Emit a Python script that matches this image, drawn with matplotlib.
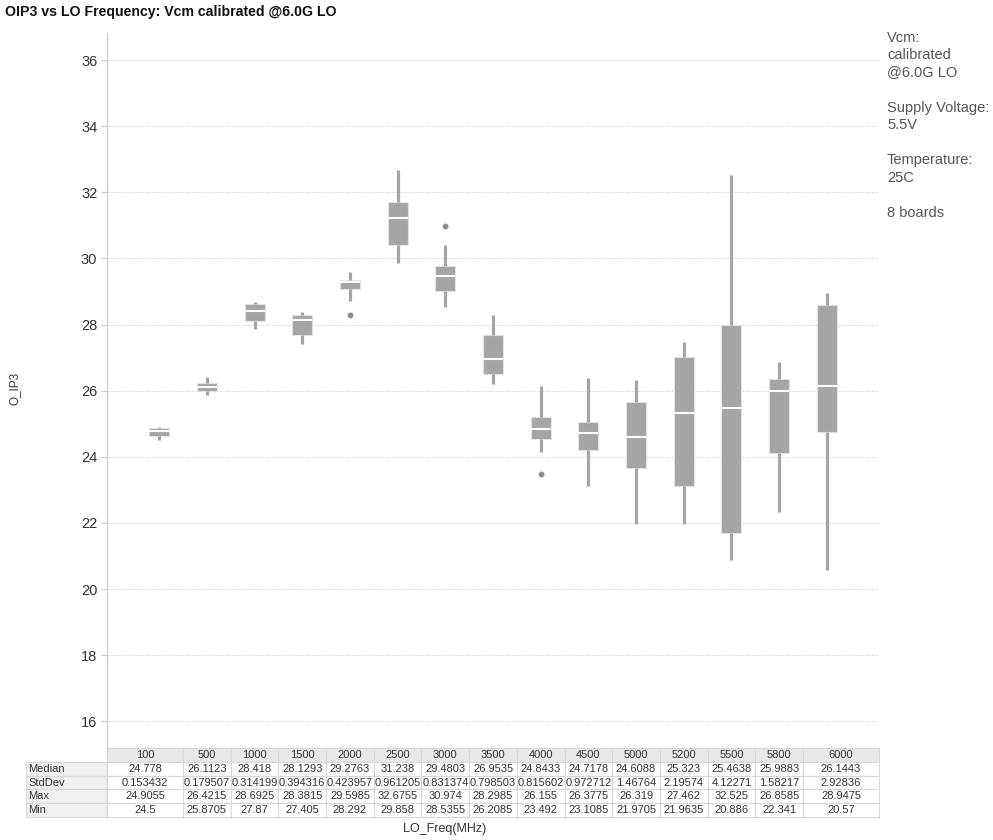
import matplotlib
matplotlib.use('Agg')
import matplotlib.pyplot as plt
import matplotlib.transforms as mtransforms
from matplotlib.patches import Rectangle

plt.rcParams['font.family'] = ['Liberation Sans', 'DejaVu Sans']

# ---------------- data ----------------
freqs = ['100', '500', '1000', '1500', '2000', '2500', '3000', '3500',
         '4000', '4500', '5000', '5200', '5500', '5800', '6000']
median = [24.778, 26.1123, 28.418, 28.1293, 29.2763, 31.238, 29.4803, 26.9535,
          24.8433, 24.7178, 24.6088, 25.323, 25.4638, 25.9883, 26.1443]
stddev = [0.153432, 0.179507, 0.314199, 0.394316, 0.423957, 0.961205, 0.831374,
          0.798503, 0.815602, 0.972712, 1.46764, 2.19574, 4.12271, 1.58217, 2.92836]
maxv = [24.9055, 26.4215, 28.6925, 28.3815, 29.5985, 32.6755, 30.974, 28.2985,
        26.155, 26.3775, 26.319, 27.462, 32.525, 26.8585, 28.9475]
minv = [24.5, 25.8705, 27.87, 27.405, 28.292, 29.858, 28.5355, 26.2085,
        23.492, 23.1085, 21.9705, 21.9635, 20.886, 22.341, 20.57]
q1 = [24.63, 26.00, 28.11, 27.68, 29.08, 30.41, 29.00, 26.49,
      24.54, 24.19, 23.67, 23.13, 21.69, 24.11, 24.74]
q3 = [24.88, 26.23, 28.62, 28.30, 29.36, 31.70, 29.77, 27.69,
      25.19, 25.04, 25.65, 27.01, 27.98, 26.34, 28.59]
whisker_low = [24.5, 25.8705, 27.87, 27.405, 28.72, 29.858, 28.5355, 26.2085,
               24.14, 23.1085, 21.9705, 21.9635, 20.886, 22.341, 20.57]
whisker_high = [24.9055, 26.4215, 28.6925, 28.3815, 29.5985, 32.6755, 30.42, 28.2985,
                26.155, 26.3775, 26.319, 27.462, 32.525, 26.8585, 28.9475]
outliers = [[], [], [], [], [28.292], [], [30.974], [],
            [23.492], [], [], [], [], [], []]
notes = ['Vcm:', 'calibrated', '@6.0G LO', 'Supply Voltage:', '5.5V',
         'Temperature:', '25C', '8 boards']
row_names = ['Median', 'StdDev', 'Max', 'Min']

# ---------------- figure ----------------
W, H = 993, 840
fig = plt.figure(figsize=(W / 100, H / 100), dpi=100)
ax_bottom_px, ax_top_px = 748, 33
ax = fig.add_axes([107 / W, (H - ax_bottom_px) / H, 772 / W, (ax_bottom_px - ax_top_px) / H])

stats = []
for i in range(len(freqs)):
    stats.append(dict(med=median[i], q1=q1[i], q3=q3[i],
                      whislo=whisker_low[i], whishi=whisker_high[i],
                      fliers=outliers[i]))

box_col = '#a5a5a5'
ax.bxp(stats, positions=list(range(len(freqs))), widths=0.42, showcaps=False,
       patch_artist=True,
       boxprops=dict(facecolor=box_col, edgecolor='#e2e2e2', linewidth=0.8),
       medianprops=dict(color='white', linewidth=1.5, solid_capstyle='butt'),
       whiskerprops=dict(color=box_col, linewidth=2.3, solid_capstyle='butt'),
       flierprops=dict(marker='o', markersize=3.2, markerfacecolor='#8e8e8e',
                       markeredgecolor='#8e8e8e'))

xlo, xhi = -1.095, 15.095
ax.set_xlim(xlo, xhi)
ax.set_ylim(15.19, 36.82)
ax.set_yticks(list(range(16, 37, 2)))
ax.set_xticks([])
ax.tick_params(axis='y', labelsize=10.5, labelcolor='#333333', color='#cccccc',
               length=4, width=0.8, pad=3)
ax.grid(axis='y', linestyle=(0, (1, 1)), color='#d6d6d6', linewidth=0.8)
ax.set_axisbelow(True)
for s in ['top', 'right', 'bottom']:
    ax.spines[s].set_visible(False)
ax.spines['left'].set_color('#cccccc')
ax.spines['left'].set_linewidth(0.9)

# ---------------- table ----------------
trans = mtransforms.blended_transform_factory(ax.transData, ax.transAxes)
ax_h_px = ax_bottom_px - ax_top_px


def yax(px):
    return (ax_bottom_px - px) / ax_h_px


edges = [xlo] + [i + 0.5 for i in range(len(freqs) - 1)] + [xhi]
label_left = xlo - (107 - 26) / 47.7
row_tops = [748, 762, 775.7, 789.4, 803.1, 816.8]
edge_col = '#d8d8d8'
tsize = 8

# header row
for j, f in enumerate(freqs):
    x0, x1 = edges[j], edges[j + 1]
    y0, y1 = yax(row_tops[1]), yax(row_tops[0])
    ax.add_patch(Rectangle((x0, y0), x1 - x0, y1 - y0, transform=trans,
                           facecolor='#e8e8e8', edgecolor=edge_col, lw=0.8, clip_on=False))
    ax.text((x0 + x1) / 2, (y0 + y1) / 2, f, transform=trans, ha='center', va='center',
            fontsize=tsize, color='#333333', clip_on=False)

table_rows = [median, stddev, maxv, minv]
for r, (name, vals) in enumerate(zip(row_names, table_rows)):
    y0, y1 = yax(row_tops[r + 2]), yax(row_tops[r + 1])
    ax.add_patch(Rectangle((label_left, y0), xlo - label_left, y1 - y0, transform=trans,
                           facecolor='#f0f0f0', edgecolor=edge_col, lw=0.8, clip_on=False))
    ax.text(label_left + 0.05, (y0 + y1) / 2, name, transform=trans, ha='left', va='center',
            fontsize=tsize, color='#333333', clip_on=False)
    for j, v in enumerate(vals):
        x0, x1 = edges[j], edges[j + 1]
        ax.add_patch(Rectangle((x0, y0), x1 - x0, y1 - y0, transform=trans,
                               facecolor='white', edgecolor=edge_col, lw=0.8, clip_on=False))
        ax.text((x0 + x1) / 2, (y0 + y1) / 2, f'{v:g}', transform=trans, ha='center',
                va='center', fontsize=tsize, color='#333333', clip_on=False)

# ---------------- text ----------------
fig.text(5 / W, 1 - 12 / H, 'OIP3 vs LO Frequency: Vcm calibrated @6.0G LO',
         fontsize=10.2, fontweight='bold', color='#111111', ha='left', va='center')
fig.text(15 / W, 1 - 388 / H, 'O_IP3', rotation=90, fontsize=8.5, color='#333333',
         ha='center', va='center')
fig.text(445 / W, 1 - 829 / H, 'LO_Freq(MHz)', fontsize=9, color='#333333',
         ha='center', va='center')

note_y = [38, 55, 72, 108, 125, 160, 178, 213]
for t, y in zip(notes, note_y):
    fig.text(887 / W, 1 - y / H, t, fontsize=10.5, color='#555555', ha='left', va='center')

fig.savefig('out.png', dpi=100)
